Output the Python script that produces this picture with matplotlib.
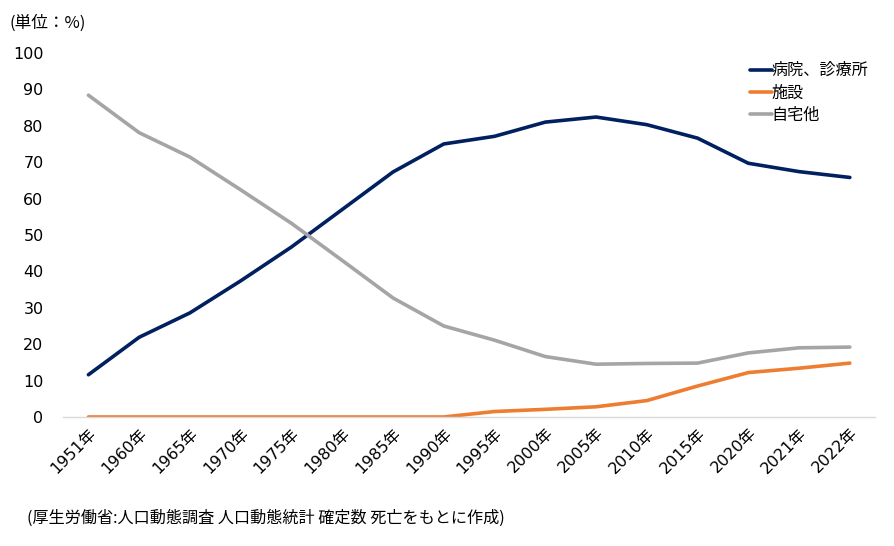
import matplotlib
import matplotlib.pyplot as plt

matplotlib.use('Agg')
plt.rcParams['font.family'] = ['DejaVu Sans', 'Noto Sans CJK JP']

years = ['1951年', '1960年', '1965年', '1970年', '1975年', '1980年', '1985年', '1990年',
         '1995年', '2000年', '2005年', '2010年', '2015年', '2020年', '2021年', '2022年']
hospital = [11.6, 21.9, 28.6, 37.4, 46.7, 57.0, 67.3, 75.0,
            77.1, 81.0, 82.4, 80.3, 76.6, 69.7, 67.4, 65.8]
facility = [0, 0, 0, 0, 0, 0, 0, 0,
            1.5, 2.1, 2.8, 4.5, 8.5, 12.2, 13.4, 14.8]
home_other = [88.4, 78.1, 71.4, 62.4, 53.2, 43.0, 32.7, 25.0,
              21.1, 16.6, 14.5, 14.7, 14.8, 17.6, 19.0, 19.2]
series_names = ['病院、診療所', '施設', '自宅他']
colors = ['#002060', '#ED7D31', '#A5A5A5']

fig = plt.figure(figsize=(8.94, 5.46), dpi=100)
ax = fig.add_axes([0.0705, 0.2363, 0.9085, 0.6667])

x = range(len(years))
for vals, name, c in zip([hospital, facility, home_other], series_names, colors):
    ax.plot(x, vals, color=c, linewidth=2.6, label=name, solid_capstyle='round')

ax.set_xlim(-0.5, len(years) - 0.5)
ax.set_ylim(0, 100)
ax.set_yticks(range(0, 101, 10))
ax.set_xticks(list(x))
ax.set_xticklabels(years, rotation=45, ha='right', rotation_mode='anchor')
ax.tick_params(axis='both', length=0, labelsize=11.5, colors='black')
ax.tick_params(axis='y', pad=14)
ax.tick_params(axis='x', pad=6)
for s in ['top', 'right', 'left']:
    ax.spines[s].set_visible(False)
ax.spines['bottom'].set_color('#D9D9D9')
ax.spines['bottom'].set_linewidth(1)

leg = ax.legend(loc='upper left', bbox_to_anchor=(0.838, 0.99), frameon=False,
                fontsize=11.6, handlelength=1.35, handletextpad=0.0,
                labelspacing=0.44, borderaxespad=0)

fig.text(0.011, 0.957, '(単位：%)', fontsize=12, ha='left', va='center',
         family=['Noto Sans CJK JP', 'DejaVu Sans'])
fig.text(0.03, 0.051, '(厚生労働省:人口動態調査 人口動態統計 確定数 死亡をもとに作成)',
         fontsize=11.6, ha='left', va='center', family=['Noto Sans CJK JP', 'DejaVu Sans'])

fig.savefig('out.png', dpi=100)
